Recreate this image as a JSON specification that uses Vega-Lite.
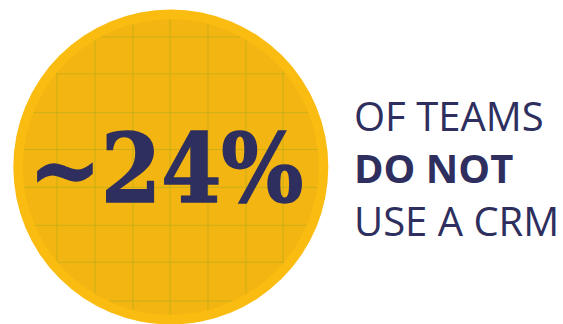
{
  "$schema": "https://vega.github.io/schema/vega-lite/v6.json",
  "width": 563,
  "height": 324,
  "padding": 0,
  "autosize": {"type": "fit", "contains": "padding"},
  "background": "white",
  "config": {"view": {"stroke": null}},
  "layer": [
    {
      "data": {"values": [{"cx": 170.8, "cy": 167.5, "ring": "outer"}]},
      "mark": {"type": "point", "shape": "circle", "filled": true, "size": 99225, "color": "#fbbc12", "opacity": 1},
      "encoding": {
        "x": {"field": "cx", "type": "quantitative", "scale": {"domain": [0, 563], "nice": false, "zero": false}, "axis": null},
        "y": {"field": "cy", "type": "quantitative", "scale": {"domain": [0, 324], "nice": false, "zero": false, "reverse": true}, "axis": null}
      }
    },
    {
      "data": {"values": [{"cx": 170.8, "cy": 167.5, "ring": "inner"}]},
      "mark": {"type": "point", "shape": "circle", "filled": true, "size": 87616, "color": "#f3b511", "opacity": 1},
      "encoding": {
        "x": {"field": "cx", "type": "quantitative"},
        "y": {"field": "cy", "type": "quantitative"}
      }
    },
    {
      "data": {"values": [
        {"x1": 57, "x2": 57, "y1": 72.9, "y2": 262.1},
        {"x1": 95, "x2": 95, "y1": 40.4, "y2": 294.6},
        {"x1": 133, "x2": 133, "y1": 24.4, "y2": 310.6},
        {"x1": 170, "x2": 170, "y1": 19.5, "y2": 315.5},
        {"x1": 208, "x2": 208, "y1": 24.3, "y2": 310.7},
        {"x1": 246, "x2": 246, "y1": 40, "y2": 295},
        {"x1": 283, "x2": 283, "y1": 71, "y2": 264},
        {"x1": 101, "x2": 240.6, "y1": 37, "y2": 37},
        {"x1": 56.1, "x2": 285.5, "y1": 74, "y2": 74},
        {"x1": 33.2, "x2": 308.4, "y1": 113, "y2": 113},
        {"x1": 23.8, "x2": 317.8, "y1": 150, "y2": 150},
        {"x1": 24.2, "x2": 317.4, "y1": 188, "y2": 188},
        {"x1": 34.9, "x2": 306.7, "y1": 226, "y2": 226},
        {"x1": 57.7, "x2": 283.9, "y1": 263, "y2": 263},
        {"x1": 109, "x2": 232.6, "y1": 302, "y2": 302}
      ]},
      "mark": {"type": "rule", "color": "#bfae1c", "strokeWidth": 1, "opacity": 0.75},
      "encoding": {
        "x": {"field": "x1", "type": "quantitative"},
        "x2": {"field": "x2"},
        "y": {"field": "y1", "type": "quantitative"},
        "y2": {"field": "y2"}
      }
    },
    {
      "data": {"values": [{"tx": 166, "ty": 203, "label": "~24%"}]},
      "mark": {"type": "text", "font": "DejaVu Serif Condensed", "fontWeight": "bold", "fontSize": 96, "color": "#2e2f5e", "stroke": "#2e2f5e", "strokeWidth": 1.5, "align": "center", "baseline": "alphabetic"},
      "encoding": {
        "x": {"field": "tx", "type": "quantitative"},
        "y": {"field": "ty", "type": "quantitative"},
        "text": {"field": "label"}
      }
    },
    {
      "data": {"values": [
        {"tx": 354, "ty": 131, "label": "OF TEAMS"},
        {"tx": 354, "ty": 237, "label": "USE A CRM"}
      ]},
      "mark": {"type": "text", "font": "Open Sans", "fontWeight": "normal", "fontSize": 40, "color": "#2e2f5e", "align": "left", "baseline": "alphabetic"},
      "encoding": {
        "x": {"field": "tx", "type": "quantitative"},
        "y": {"field": "ty", "type": "quantitative"},
        "text": {"field": "label"}
      }
    },
    {
      "data": {"values": [
        {"tx": 354, "ty": 184, "label": "DO NOT"}
      ]},
      "mark": {"type": "text", "font": "Open Sans", "fontWeight": "bold", "fontSize": 40, "color": "#2e2f5e", "align": "left", "baseline": "alphabetic"},
      "encoding": {
        "x": {"field": "tx", "type": "quantitative"},
        "y": {"field": "ty", "type": "quantitative"},
        "text": {"field": "label"}
      }
    }
  ]
}
